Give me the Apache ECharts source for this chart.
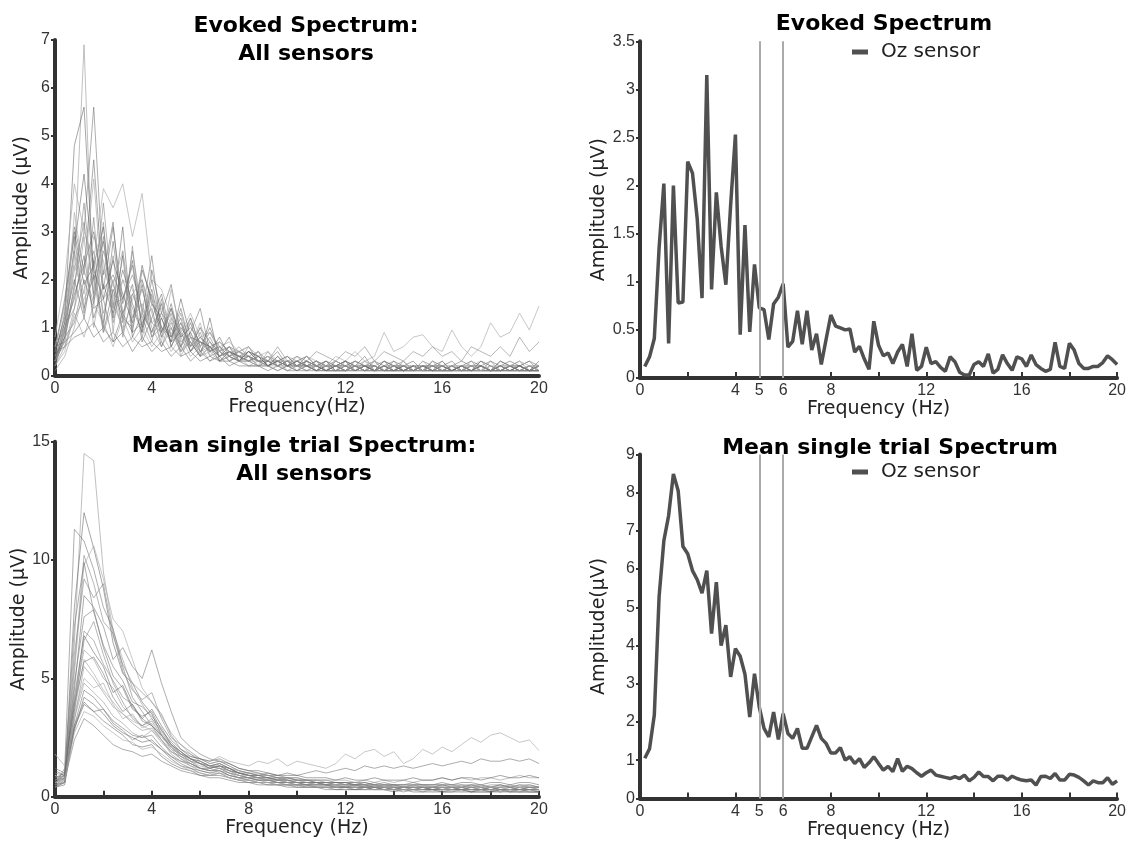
<!DOCTYPE html>
<html>
<head>
<meta charset="utf-8">
<script src="https://cdn.jsdelivr.net/npm/echarts@6/dist/echarts.min.js"></script>
<style>
  html, body { margin: 0; padding: 0; background: #fff; }
  #chart { width: 1129px; height: 849px; }
</style>
</head>
<body>
<div id="chart"></div>
<script>
// frequency grids (Hz): 0.4 Hz steps for the sensor traces, 0.2 Hz for Oz
var freqL = [];
for (var i = 0; i <= 50; i++) freqL.push(+(i * 0.4).toFixed(1));
var freqR = [];
for (var j = 1; j <= 100; j++) freqR.push(+(j * 0.2).toFixed(1));

// evoked spectrum, a selection of sensors (uV)
var evoked1 = [0.3,0.8,2.4,6.9,1.5,3.2,0.9,2.6,1.2,1.8, 1.0,0.6,1.2,0.4,0.8,0.5,0.6,0.3,0.5,0.3, 0.4,0.2,0.3,0.2,0.3,0.1,0.2,0.3,0.1,0.2, 0.2,0.1,0.3,0.2,0.1,0.2,0.1,0.2,0.1,0.3, 0.1,0.2,0.1,0.2,0.3,0.1,0.2,0.1,0.2,0.1,0.2];
var evoked2 = [0.5,1.2,4.8,5.6,2.0,2.8,1.4,3.1,0.9,2.2, 1.6,0.8,1.4,0.6,1.1,0.5,0.7,0.4,0.6,0.3, 0.5,0.3,0.4,0.2,0.3,0.2,0.4,0.2,0.3,0.1, 0.3,0.2,0.1,0.3,0.2,0.1,0.2,0.3,0.1,0.2, 0.2,0.1,0.2,0.1,0.3,0.2,0.1,0.2,0.3,0.1,0.2];
var evoked3 = [0.4,0.7,1.9,3.0,5.6,2.1,3.2,1.1,2.6,1.3, 2.5,0.9,1.5,0.7,0.9,1.4,0.5,0.6,0.4,0.5, 0.6,0.3,0.2,0.4,0.2,0.3,0.2,0.1,0.3,0.2, 0.1,0.2,0.4,0.1,0.2,0.3,0.1,0.2,0.2,0.1, 0.3,0.1,0.2,0.1,0.2,0.1,0.3,0.2,0.1,0.2,0.1];
var evoked4 = [0.8,2.0,4.0,3.0,2.4,3.9,3.5,4.0,2.9,3.8, 2.0,1.8,1.2,0.9,1.3,0.8,0.9,0.6,0.7,0.5, 0.6,0.4,0.5,0.3,0.4,0.3,0.4,0.3,0.2,0.4, 0.3,0.5,0.3,0.4,0.9,0.5,0.6,0.8,0.85,0.6, 0.5,0.95,0.6,0.4,0.6,1.1,0.8,0.9,1.3,0.95,1.45];
var evoked5 = [0.6,1.5,3.1,2.2,4.5,1.8,3.1,1.5,2.4,1.0, 2.2,1.3,1.9,0.8,1.2,0.6,1.0,0.5,0.6,0.4, 0.5,0.3,0.4,0.3,0.2,0.4,0.2,0.3,0.2,0.3, 0.2,0.3,0.2,0.1,0.3,0.2,0.2,0.1,0.3,0.2, 0.1,0.2,0.3,0.2,0.1,0.3,0.2,0.1,0.2,0.3,0.2];
var evoked6 = [0.3,0.9,2.6,1.3,3.3,1.1,2.5,0.8,1.7,1.2, 0.7,1.6,0.6,1.1,0.5,0.9,0.4,0.5,0.3,0.4, 0.3,0.4,0.2,0.3,0.1,0.2,0.3,0.1,0.2,0.2, 0.1,0.2,0.1,0.2,0.3,0.1,0.1,0.2,0.1,0.2, 0.1,0.1,0.2,0.1,0.1,0.2,0.1,0.2,0.1,0.1,0.1];
var evoked7 = [0.2,0.6,1.4,2.9,1.0,2.2,1.7,0.9,2.7,0.8, 1.5,1.0,0.7,1.3,0.6,1.0,0.5,0.6,0.3,0.5, 0.4,0.2,0.5,0.2,0.3,0.2,0.2,0.3,0.1,0.2, 0.3,0.1,0.2,0.2,0.1,0.2,0.3,0.1,0.2,0.1, 0.2,0.2,0.1,0.3,0.1,0.2,0.1,0.2,0.2,0.1,0.2];
var evoked8 = [0.5,1.1,2.0,1.2,2.4,0.9,1.8,1.2,1.0,1.9, 0.8,1.2,0.7,0.9,0.5,0.7,0.6,0.4,0.5,0.3, 0.4,0.3,0.2,0.4,0.2,0.3,0.2,0.2,0.1,0.3, 0.2,0.1,0.2,0.3,0.1,0.2,0.1,0.2,0.2,0.1, 0.2,0.3,0.1,0.2,0.2,0.1,0.3,0.2,0.1,0.2,0.1];
var evoked9 = [0.4,0.8,1.1,2.0,1.4,1.6,0.7,1.3,0.9,1.1, 1.4,0.6,1.0,0.5,0.7,0.4,0.6,0.3,0.4,0.3, 0.3,0.2,0.3,0.2,0.2,0.1,0.3,0.2,0.1,0.2, 0.1,0.2,0.1,0.1,0.2,0.1,0.2,0.1,0.1,0.2, 0.1,0.1,0.2,0.1,0.2,0.1,0.1,0.2,0.1,0.1,0.1];
var evoked10 = [0.2,0.5,1.3,0.8,1.5,1.1,0.6,1.2,0.7,1.0, 0.6,0.9,0.5,0.8,0.4,0.6,0.3,0.5,0.3,0.4, 0.2,0.3,0.2,0.2,0.1,0.2,0.1,0.2,0.1,0.1, 0.2,0.1,0.1,0.2,0.1,0.1,0.1,0.2,0.1,0.1, 0.1,0.2,0.1,0.1,0.1,0.2,0.1,0.1,0.1,0.1,0.1];
var evoked11 = [0.6,0.7,0.9,1.2,0.8,1.0,0.7,0.9,0.5,0.8, 0.5,0.7,0.4,0.6,0.3,0.5,0.3,0.4,0.2,0.3, 0.2,0.2,0.1,0.2,0.1,0.1,0.2,0.1,0.1,0.1, 0.1,0.1,0.2,0.1,0.1,0.1,0.1,0.1,0.2,0.1, 0.1,0.1,0.1,0.2,0.1,0.1,0.1,0.1,0.2,0.1,0.1];
var evoked12 = [0.3,0.9,1.8,3.6,1.6,2.9,1.1,2.0,1.4,0.9, 1.7,0.8,1.1,0.6,0.9,0.5,0.8,0.4,0.6,0.5, 0.4,0.5,0.3,0.6,0.3,0.4,0.3,0.5,0.4,0.3, 0.5,0.4,0.6,0.3,0.5,0.4,0.3,0.5,0.4,0.6, 0.4,0.5,0.3,0.6,0.5,0.4,0.6,0.4,0.8,0.5,0.7];
var evoked13 = [0.1,0.4,1.0,1.8,2.6,1.3,2.0,0.9,1.6,1.8, 1.1,0.9,1.3,0.5,0.8,0.4,0.5,0.3,0.4,0.3, 0.3,0.2,0.2,0.1,0.2,0.2,0.1,0.2,0.1,0.1, 0.1,0.2,0.1,0.1,0.1,0.2,0.1,0.1,0.1,0.1, 0.2,0.1,0.1,0.1,0.2,0.1,0.1,0.1,0.1,0.2,0.1];
var evoked14 = [0.4,1.3,3.0,1.9,2.3,3.1,1.2,2.5,0.8,1.3, 0.9,1.5,0.6,1.0,0.7,0.4,1.2,0.3,0.5,0.4, 0.3,0.4,0.2,0.3,0.2,0.3,0.2,0.1,0.2,0.2, 0.3,0.1,0.2,0.1,0.3,0.2,0.1,0.2,0.1,0.2, 0.2,0.1,0.2,0.2,0.1,0.1,0.2,0.1,0.2,0.1,0.2];
var evoked15 = [0.5,1.6,2.9,1.4,2.1,1.0,2.8,1.3,1.9,0.7, 1.2,1.7,0.8,1.4,0.6,1.0,0.7,0.5,0.8,0.3, 0.5,0.4,0.3,0.5,0.2,0.3,0.4,0.2,0.3,0.2, 0.1,0.3,0.2,0.2,0.1,0.3,0.2,0.1,0.2,0.2, 0.3,0.1,0.2,0.1,0.2,0.3,0.1,0.2,0.2,0.3,0.1];
var evoked16 = [0.3,0.7,3.4,2.1,4.1,1.6,1.9,2.6,1.0,2.0, 1.3,0.7,1.8,0.9,0.6,1.1,0.4,0.7,0.5,0.3, 0.6,0.3,0.4,0.2,0.4,0.2,0.3,0.2,0.2,0.3, 0.2,0.1,0.2,0.3,0.1,0.2,0.2,0.1,0.3,0.1, 0.2,0.1,0.1,0.2,0.2,0.1,0.2,0.1,0.1,0.2,0.1];
var evoked17 = [0.2,1.0,1.6,2.5,1.2,1.9,1.3,2.2,1.5,0.9, 2.0,1.0,0.8,1.2,0.5,0.8,0.6,0.4,0.5,0.4, 0.3,0.5,0.2,0.3,0.3,0.2,0.2,0.1,0.2,0.1, 0.2,0.2,0.1,0.2,0.1,0.1,0.2,0.2,0.1,0.1, 0.1,0.2,0.1,0.1,0.2,0.1,0.1,0.2,0.1,0.1,0.2];
var evoked18 = [0.7,0.9,2.2,3.2,1.7,3.6,1.5,1.6,2.1,1.4, 0.9,1.3,1.0,0.6,1.2,0.6,0.9,0.5,0.4,0.6, 0.4,0.3,0.3,0.2,0.3,0.3,0.2,0.2,0.3,0.1, 0.2,0.3,0.2,0.1,0.2,0.1,0.3,0.1,0.2,0.2, 0.1,0.2,0.2,0.1,0.3,0.2,0.1,0.2,0.2,0.1,0.2];
var evoked19 = [0.4,0.6,1.2,1.6,2.0,0.9,1.5,1.0,1.2,1.5, 0.8,1.0,0.9,0.5,0.9,0.4,0.6,0.5,0.3,0.4, 0.3,0.3,0.2,0.3,0.2,0.2,0.1,0.2,0.2,0.1, 0.1,0.2,0.1,0.2,0.1,0.2,0.1,0.1,0.2,0.1, 0.1,0.1,0.2,0.1,0.1,0.1,0.2,0.1,0.1,0.2,0.1];
var evoked20 = [0.3,1.1,2.7,4.2,2.2,1.6,2.4,1.7,1.1,2.3, 1.5,1.2,0.7,1.6,0.8,0.7,0.5,0.8,0.4,0.3, 0.5,0.4,0.2,0.3,0.4,0.2,0.3,0.2,0.1,0.2, 0.3,0.2,0.2,0.1,0.2,0.2,0.1,0.2,0.1,0.3, 0.2,0.1,0.2,0.3,0.2,0.1,0.2,0.3,0.2,0.1,0.3];
var evoked21 = [0.5,0.6,0.8,0.9,1.1,0.7,0.9,0.6,0.8,0.6, 0.7,0.5,0.6,0.4,0.5,0.3,0.4,0.3,0.3,0.2, 0.2,0.2,0.2,0.1,0.2,0.1,0.1,0.1,0.1,0.1, 0.1,0.1,0.1,0.1,0.1,0.1,0.1,0.1,0.1,0.1, 0.1,0.1,0.1,0.1,0.1,0.1,0.1,0.1,0.1,0.1,0.1];
var evoked22 = [0.6,1.4,2.3,1.7,2.9,2.4,1.4,2.0,1.8,1.2, 1.6,1.4,1.1,1.0,0.8,0.6,0.9,0.6,0.5,0.5, 0.4,0.3,0.4,0.3,0.3,0.2,0.3,0.2,0.2,0.2, 0.2,0.2,0.3,0.1,0.2,0.2,0.2,0.2,0.1,0.2, 0.2,0.2,0.2,0.2,0.1,0.2,0.2,0.2,0.3,0.2,0.2];
var evoked23 = [0.2,0.8,1.7,2.3,3.0,1.8,2.1,1.6,2.3,1.0, 1.8,0.9,1.4,0.8,1.0,0.7,0.6,0.7,0.5,0.4, 0.4,0.3,0.3,0.3,0.2,0.2,0.3,0.2,0.1,0.2, 0.2,0.1,0.2,0.1,0.2,0.1,0.2,0.1,0.2,0.1, 0.2,0.1,0.2,0.1,0.2,0.1,0.2,0.1,0.2,0.1,0.1];
var evoked24 = [0.4,1.0,1.4,2.2,1.5,2.6,1.9,1.3,1.7,2.0, 1.1,1.3,0.8,1.1,0.6,0.8,0.5,0.6,0.4,0.5, 0.3,0.4,0.3,0.2,0.3,0.2,0.2,0.3,0.2,0.2, 0.1,0.2,0.2,0.2,0.1,0.2,0.2,0.1,0.2,0.2, 0.1,0.2,0.1,0.2,0.2,0.1,0.2,0.2,0.1,0.2,0.2];

// mean single trial spectrum, a selection of sensors (uV)
var mean1 = [1.0,0.9,6.5,14.5,14.2,9.5,7.0,5.8,4.6,3.9, 3.3,2.8,2.2,1.9,1.6,1.5,1.3,1.3,1.2,1.0, 0.9,0.8,0.8,0.7,0.7,0.6,0.6,0.6,0.5,0.5, 0.5,0.5,0.4,0.5,0.4,0.4,0.4,0.4,0.4,0.3, 0.4,0.4,0.3,0.4,0.3,0.4,0.3,0.3,0.4,0.3,0.3];
var mean2 = [0.7,0.8,8.0,12.0,10.5,8.8,6.5,5.2,4.8,4.0, 3.5,2.6,2.1,1.8,1.6,1.4,1.3,1.2,1.1,0.9, 0.8,0.8,0.7,0.7,0.6,0.6,0.5,0.6,0.5,0.5, 0.4,0.5,0.4,0.4,0.4,0.3,0.4,0.4,0.3,0.4, 0.3,0.4,0.4,0.3,0.3,0.4,0.3,0.3,0.3,0.4,0.3];
var mean3 = [0.5,1.2,11.3,10.8,9.6,8.0,7.1,5.5,4.2,3.6, 3.0,2.4,1.9,1.7,1.5,1.2,1.1,1.2,1.0,0.9, 0.8,0.7,0.7,0.6,0.6,0.5,0.5,0.5,0.5,0.4, 0.4,0.4,0.4,0.4,0.3,0.3,0.4,0.3,0.3,0.3, 0.3,0.3,0.3,0.3,0.3,0.3,0.2,0.3,0.3,0.3,0.2];
var mean4 = [0.9,0.7,5.2,9.8,10.6,9.2,7.5,7.0,5.8,4.6, 4.0,3.4,2.7,2.2,1.8,1.6,1.4,1.5,1.3,1.1, 1.0,0.9,0.9,0.8,0.8,0.7,0.7,0.6,0.6,0.6, 0.6,0.5,0.5,0.5,0.5,0.5,0.4,0.5,0.5,0.4, 0.5,0.4,0.5,0.4,0.5,0.4,0.4,0.5,0.4,0.4,0.4];
var mean5 = [0.6,0.9,4.5,8.5,8.0,7.2,5.8,6.3,5.5,5.0, 6.2,4.8,3.6,2.5,2.1,1.8,1.6,1.5,1.4,1.2, 1.1,1.0,0.9,0.9,0.8,0.8,0.7,0.7,0.7,0.6, 0.6,0.6,0.6,0.5,0.6,0.5,0.5,0.5,0.5,0.5, 0.5,0.5,0.4,0.5,0.5,0.4,0.5,0.4,0.5,0.4,0.4];
var mean6 = [0.4,0.6,3.8,7.0,6.6,5.6,4.9,4.2,3.9,3.3, 3.0,2.6,2.0,1.6,1.4,1.2,1.1,1.1,0.9,0.8, 0.7,0.7,0.6,0.6,0.5,0.5,0.5,0.4,0.4,0.4, 0.4,0.4,0.3,0.4,0.3,0.3,0.3,0.3,0.3,0.3, 0.3,0.3,0.3,0.2,0.3,0.3,0.2,0.3,0.2,0.3,0.2];
var mean7 = [0.6,0.8,3.2,5.5,5.0,4.4,3.8,3.5,3.1,2.8, 2.9,2.4,1.8,1.5,1.3,1.1,1.0,1.0,0.9,0.8, 0.7,0.6,0.6,0.6,0.5,0.5,0.5,0.4,0.4,0.4, 0.4,0.4,0.4,0.3,0.4,0.3,0.3,0.3,0.3,0.3, 0.3,0.3,0.3,0.3,0.3,0.2,0.3,0.3,0.2,0.3,0.3];
var mean8 = [0.8,0.9,2.8,4.2,3.9,3.5,3.0,2.7,2.5,2.3, 2.4,2.0,1.6,1.3,1.2,1.0,0.9,1.0,0.8,0.7, 0.7,0.6,0.6,0.5,0.5,0.5,0.4,0.4,0.4,0.4, 0.4,0.3,0.4,0.3,0.3,0.3,0.3,0.3,0.3,0.3, 0.2,0.3,0.3,0.2,0.3,0.2,0.3,0.2,0.3,0.2,0.2];
var mean9 = [0.5,0.7,2.4,3.3,3.0,2.6,2.2,2.0,1.9,1.7, 1.8,1.5,1.3,1.1,1.0,0.9,0.8,0.8,0.7,0.6, 0.6,0.5,0.5,0.5,0.4,0.4,0.4,0.4,0.3,0.3, 0.3,0.3,0.3,0.3,0.3,0.3,0.2,0.3,0.2,0.3, 0.2,0.2,0.3,0.2,0.2,0.2,0.3,0.2,0.2,0.2,0.2];
var mean10 = [1.8,1.3,3.6,5.8,5.2,4.5,4.0,3.5,3.2,3.0, 2.8,2.4,2.0,1.8,1.7,1.6,1.5,1.7,1.5,1.4, 1.3,1.5,1.4,1.6,1.3,1.5,1.4,1.3,1.2,1.4, 1.8,1.6,1.9,2.0,1.7,1.9,1.4,1.6,2.0,1.8, 2.1,1.9,2.2,2.5,2.3,2.6,2.7,2.5,2.3,2.4,1.95];
var mean11 = [1.2,1.0,3.0,4.5,4.2,3.7,3.2,2.9,2.6,2.5, 2.6,2.1,1.7,1.5,1.4,1.2,1.2,1.3,1.1,1.0, 1.0,0.9,1.0,0.9,1.0,0.9,1.0,1.1,1.0,1.1, 1.2,1.1,1.3,1.2,1.3,1.2,1.3,1.2,1.3,1.4, 1.3,1.4,1.5,1.4,1.6,1.5,1.5,1.6,1.5,1.6,1.4];
var mean12 = [0.5,0.6,6.0,9.2,8.4,9.0,6.8,5.6,4.8,4.4, 4.0,3.5,2.6,2.0,1.8,1.5,1.3,1.4,1.2,1.0, 0.9,0.8,0.8,0.7,0.7,0.6,0.6,0.6,0.5,0.5, 0.5,0.5,0.5,0.4,0.4,0.4,0.4,0.4,0.4,0.4, 0.4,0.3,0.4,0.4,0.3,0.4,0.3,0.4,0.3,0.3,0.3];
var mean13 = [0.7,0.9,4.0,6.2,5.8,5.0,4.6,3.8,3.4,3.0, 3.3,2.7,2.2,1.8,1.6,1.4,1.3,1.4,1.2,1.1, 1.0,0.9,0.9,0.8,0.8,0.8,0.7,0.7,0.7,0.7, 0.7,0.6,0.7,0.6,0.7,0.6,0.7,0.6,0.7,0.7, 0.8,0.7,0.8,0.7,0.8,0.8,0.7,0.8,0.9,0.8,0.8];
var mean14 = [0.4,0.5,2.9,3.9,3.6,3.2,2.9,2.6,2.2,2.1, 2.2,1.7,1.4,1.2,1.1,0.9,0.9,0.9,0.8,0.7, 0.6,0.6,0.5,0.5,0.5,0.4,0.4,0.4,0.4,0.3, 0.3,0.3,0.3,0.3,0.3,0.2,0.3,0.2,0.2,0.2, 0.2,0.2,0.2,0.2,0.2,0.2,0.2,0.2,0.2,0.2,0.2];
var mean15 = [0.6,0.8,4.8,7.6,7.9,6.3,5.1,4.6,3.7,3.4, 3.6,2.8,2.3,1.9,1.6,1.5,1.3,1.4,1.2,1.0, 0.9,0.9,0.8,0.7,0.8,0.7,0.6,0.6,0.6,0.5, 0.6,0.5,0.5,0.5,0.4,0.5,0.4,0.5,0.4,0.4, 0.5,0.4,0.4,0.5,0.4,0.4,0.5,0.4,0.4,0.5,0.4];
var mean16 = [0.9,0.7,3.5,5.0,4.6,4.8,3.9,3.3,3.5,2.9, 3.1,2.5,2.1,1.7,1.5,1.3,1.2,1.3,1.1,0.9, 0.9,0.8,0.7,0.8,0.6,0.7,0.6,0.5,0.6,0.5, 0.5,0.5,0.4,0.5,0.4,0.4,0.4,0.5,0.4,0.4, 0.4,0.4,0.5,0.4,0.4,0.4,0.4,0.5,0.4,0.4,0.4];
var mean17 = [0.5,0.6,3.0,4.0,3.6,3.7,3.1,2.8,2.4,2.6, 2.3,2.0,1.7,1.4,1.2,1.1,1.0,1.1,0.9,0.8, 0.8,0.7,0.7,0.6,0.6,0.6,0.5,0.5,0.5,0.4, 0.4,0.4,0.4,0.4,0.3,0.4,0.3,0.3,0.4,0.3, 0.3,0.3,0.3,0.3,0.3,0.3,0.3,0.3,0.3,0.3,0.3];
var mean18 = [0.7,0.9,5.5,10.2,9.0,7.4,6.9,5.3,4.5,4.1, 4.4,3.3,2.5,2.2,1.9,1.6,1.4,1.5,1.3,1.1, 1.0,1.0,0.9,0.8,0.8,0.7,0.7,0.7,0.6,0.6, 0.6,0.6,0.5,0.6,0.5,0.5,0.5,0.5,0.5,0.5, 0.5,0.5,0.5,0.5,0.4,0.5,0.5,0.4,0.5,0.5,0.4];
var mean19 = [0.4,0.7,3.3,4.8,4.4,4.0,3.4,3.1,2.7,2.5, 2.8,2.3,1.9,1.6,1.3,1.2,1.1,1.2,1.0,0.9, 0.8,0.8,0.7,0.7,0.6,0.6,0.6,0.5,0.5,0.5, 0.5,0.5,0.4,0.4,0.4,0.4,0.4,0.4,0.4,0.4, 0.4,0.3,0.4,0.4,0.3,0.4,0.4,0.3,0.4,0.4,0.3];
var mean20 = [1.1,0.9,4.2,6.8,6.1,5.5,4.4,4.7,3.8,3.3, 3.7,3.0,2.4,2.0,1.7,1.6,1.5,1.6,1.4,1.2, 1.1,1.1,1.0,0.9,0.9,0.9,0.8,0.8,0.8,0.7, 0.8,0.7,0.7,0.8,0.7,0.7,0.7,0.8,0.7,0.7, 0.8,0.7,0.8,0.8,0.7,0.8,0.9,0.8,0.8,0.9,0.8];
var mean21 = [0.5,0.8,7.2,9.9,7.8,6.4,5.5,4.9,4.0,3.8, 3.4,2.9,2.2,1.8,1.5,1.4,1.2,1.3,1.1,1.0, 0.9,0.8,0.8,0.7,0.7,0.6,0.6,0.6,0.5,0.6, 0.5,0.5,0.5,0.4,0.5,0.4,0.4,0.4,0.4,0.4, 0.4,0.4,0.3,0.4,0.4,0.3,0.4,0.4,0.3,0.4,0.4];
var mean22 = [0.6,0.7,2.7,3.6,3.4,3.0,2.7,2.4,2.3,2.0, 2.1,1.8,1.5,1.3,1.1,1.0,0.9,1.0,0.8,0.7, 0.7,0.6,0.6,0.5,0.5,0.5,0.4,0.4,0.4,0.4, 0.3,0.4,0.3,0.3,0.3,0.3,0.3,0.3,0.3,0.2, 0.3,0.3,0.2,0.3,0.2,0.3,0.2,0.3,0.2,0.2,0.3];
var mean23 = [0.8,1.0,3.9,5.7,5.9,5.2,4.2,3.6,3.9,3.2, 3.0,2.6,2.2,1.9,1.6,1.4,1.2,1.3,1.2,1.0, 0.9,0.9,0.8,0.8,0.7,0.7,0.7,0.6,0.6,0.6, 0.6,0.5,0.6,0.5,0.5,0.5,0.5,0.6,0.5,0.5, 0.6,0.5,0.6,0.6,0.5,0.6,0.6,0.5,0.6,0.6,0.5];
var mean24 = [0.4,0.6,3.6,6.6,7.4,6.0,4.8,4.0,3.3,3.0, 3.2,2.6,2.1,1.7,1.4,1.2,1.1,1.1,1.0,0.8, 0.8,0.7,0.7,0.6,0.6,0.5,0.5,0.5,0.5,0.4, 0.4,0.4,0.4,0.4,0.4,0.3,0.4,0.3,0.3,0.4, 0.3,0.3,0.3,0.3,0.3,0.3,0.3,0.3,0.3,0.3,0.3];

// Oz sensor (uV), 0.2 .. 20 Hz
var ozEvoked = [0.12,0.22,0.41,1.35,2.02,0.36,2.0,0.78,0.79,2.25,
  2.13,1.65,0.83,3.15,0.92,1.93,1.37,0.97,1.8,2.53,
  0.45,1.59,0.48,1.18,0.73,0.71,0.40,0.77,0.84,0.98,
  0.32,0.38,0.70,0.35,0.70,0.29,0.46,0.14,0.40,0.655,
  0.54,0.52,0.50,0.51,0.27,0.33,0.20,0.09,0.59,0.34,
  0.23,0.26,0.15,0.27,0.35,0.12,0.46,0.08,0.12,0.32,
  0.15,0.17,0.11,0.07,0.22,0.17,0.06,0.03,0.03,0.14,
  0.17,0.12,0.25,0.05,0.09,0.24,0.15,0.08,0.22,0.20,
  0.12,0.24,0.14,0.10,0.07,0.09,0.37,0.12,0.10,0.36,
  0.29,0.15,0.10,0.10,0.12,0.12,0.16,0.23,0.19,0.14];
var ozMean = [1.05,1.3,2.18,5.27,6.74,7.4,8.49,8.05,6.59,6.4,
  5.96,5.72,5.37,5.96,4.31,5.66,4.0,4.53,3.18,3.92,
  3.72,3.25,2.13,3.26,2.39,1.83,1.61,2.26,1.54,2.22,
  1.7,1.57,1.83,1.31,1.31,1.61,1.91,1.57,1.44,1.19,
  1.19,1.33,1.0,1.09,0.91,1.04,0.81,0.93,1.09,0.91,
  0.74,0.84,0.70,1.04,0.71,0.84,0.78,0.67,0.58,0.67,
  0.74,0.61,0.58,0.55,0.52,0.57,0.52,0.61,0.46,0.55,
  0.69,0.57,0.57,0.46,0.58,0.58,0.48,0.58,0.52,0.48,
  0.46,0.48,0.35,0.57,0.58,0.52,0.65,0.48,0.48,0.63,
  0.61,0.55,0.46,0.35,0.46,0.41,0.41,0.54,0.37,0.46];

var evokedAll = [evoked1, evoked2, evoked3, evoked4, evoked5, evoked6, evoked7, evoked8,
  evoked9, evoked10, evoked11, evoked12, evoked13, evoked14, evoked15, evoked16,
  evoked17, evoked18, evoked19, evoked20, evoked21, evoked22, evoked23, evoked24];
var meanAll = [mean1, mean2, mean3, mean4, mean5, mean6, mean7, mean8,
  mean9, mean10, mean11, mean12, mean13, mean14, mean15, mean16,
  mean17, mean18, mean19, mean20, mean21, mean22, mean23, mean24];
var stimFreqs = [5, 6];

var traceColors = ['rgba(150,150,150,0.6)', 'rgba(95,95,95,0.55)', 'rgba(120,120,120,0.6)',
  'rgba(175,175,175,0.7)', 'rgba(105,105,105,0.55)', 'rgba(135,135,135,0.6)'];

var myChart = echarts.init(document.getElementById('chart'));

function xAxisFor(grid, name, labels, ticks) {
  return {
    type: 'value', gridIndex: grid, min: 0, max: 20, interval: 2,
    name: name, nameLocation: 'middle', nameGap: 21,
    nameTextStyle: { fontFamily: 'DejaVu Sans', fontSize: 19, color: '#222' },
    axisLine: { onZero: false, lineStyle: { color: '#333', width: 4 } },
    axisTick: { show: ticks, inside: true, length: 6, lineStyle: { color: '#333', width: 2 } },
    axisLabel: { customValues: labels, margin: 5, fontFamily: 'Liberation Sans', fontSize: 16, color: '#333' },
    splitLine: { show: false }
  };
}

function yAxisFor(grid, name, max, interval, gap) {
  return {
    type: 'value', gridIndex: grid, min: 0, max: max, interval: interval,
    name: name, nameLocation: 'middle', nameGap: gap,
    nameTextStyle: { fontFamily: 'DejaVu Sans', fontSize: 19, color: '#222' },
    axisLine: { show: true, lineStyle: { color: '#333', width: 4 } },
    axisTick: { show: true, inside: false, length: 4, lineStyle: { color: '#333', width: 2 } },
    axisLabel: { margin: 5, fontFamily: 'Liberation Sans', fontSize: 16, color: '#333' },
    splitLine: { show: false }
  };
}

function traces(list, idx) {
  return list.map(function (vals, k) {
    return {
      type: 'line', xAxisIndex: idx, yAxisIndex: idx,
      showSymbol: false, silent: true,
      lineStyle: { width: 1, color: traceColors[k % traceColors.length] },
      data: vals.map(function (v, i) { return [freqL[i], v]; })
    };
  });
}

function ozSeries(vals, idx) {
  return {
    name: 'Oz sensor', type: 'line', xAxisIndex: idx, yAxisIndex: idx,
    showSymbol: false, silent: true,
    itemStyle: { color: '#505050' },
    lineStyle: { width: 3.5, color: '#505050' },
    markLine: {
      silent: true, symbol: 'none', label: { show: false },
      lineStyle: { color: '#aaa', width: 2, type: 'solid' },
      data: stimFreqs.map(function (f) { return { xAxis: f }; })
    },
    data: vals.map(function (v, i) { return [freqR[i], v]; })
  };
}

var titleStyle = { fontFamily: 'DejaVu Sans', fontWeight: 'bold', fontSize: 22, color: '#000', lineHeight: 28 };
var legendBase = {
  data: ['Oz sensor'], icon: 'rect', itemWidth: 16, itemHeight: 5, padding: 0,
  textStyle: { fontFamily: 'DejaVu Sans', fontSize: 20, color: '#222', padding: [0, 0, 0, 8] },
  selectedMode: false
};

var option = {
  animation: false,
  title: [
    { text: 'Evoked Spectrum:\nAll sensors', left: 301, top: 7, textAlign: 'center', textStyle: titleStyle },
    { text: 'Evoked Spectrum', left: 879, top: 5, textAlign: 'center', textStyle: titleStyle },
    { text: 'Mean single trial Spectrum:\nAll sensors', left: 299, top: 427, textAlign: 'center', textStyle: titleStyle },
    { text: 'Mean single trial Spectrum', left: 885, top: 429, textAlign: 'center', textStyle: titleStyle }
  ],
  legend: [
    Object.assign({ left: 852, top: 42 }, legendBase),
    Object.assign({ left: 852, top: 462 }, legendBase)
  ],
  grid: [
    { left: 55, top: 40, width: 484, height: 335.5 },
    { left: 640, top: 41.3, width: 484, height: 336.7 },
    { left: 55, top: 441.7, width: 484, height: 355 },
    { left: 640, top: 454.4, width: 484, height: 344 }
  ],
  xAxis: [
    xAxisFor(0, 'Frequency(Hz)', [0, 4, 8, 12, 16, 20], false),
    xAxisFor(1, 'Frequency (Hz)', [0, 4, 5, 6, 8, 12, 16, 20], true),
    xAxisFor(2, 'Frequency (Hz)', [0, 4, 8, 12, 16, 20], true),
    xAxisFor(3, 'Frequency (Hz)', [0, 4, 5, 6, 8, 12, 16, 20], true)
  ],
  yAxis: [
    yAxisFor(0, 'Amplitude (\u03bcV)', 7, 1, 23),
    yAxisFor(1, 'Amplitude (\u03bcV)', 3.5, 0.5, 31),
    yAxisFor(2, 'Amplitude (\u03bcV)', 15, 5, 23),
    yAxisFor(3, 'Amplitude(\u03bcV)', 9, 1, 31)
  ],
  series: traces(evokedAll, 0)
    .concat([ozSeries(ozEvoked, 1)])
    .concat(traces(meanAll, 2))
    .concat([ozSeries(ozMean, 3)])
};

myChart.setOption(option, true);
</script>
</body>
</html>
